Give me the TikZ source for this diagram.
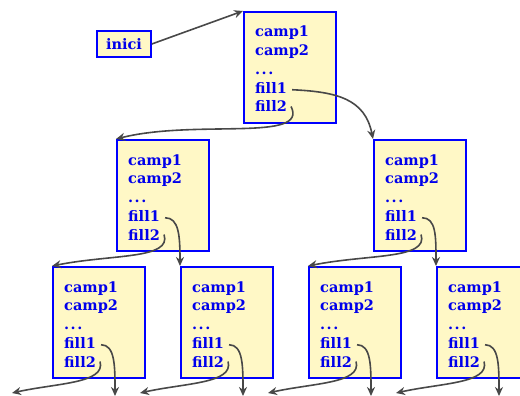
\documentclass[tikz,border=0pt]{standalone}
\usepackage{fontspec}
\setmainfont{DejaVu Serif}
\usetikzlibrary{arrows.meta,calc}
\definecolor{boxfill}{RGB}{255,248,198}
\definecolor{boxline}{RGB}{0,0,255}
\definecolor{txt}{RGB}{0,0,235}
\definecolor{arr}{RGB}{72,72,72}
\tikzset{
  recbox/.style={draw=boxline, fill=boxfill, line width=1.6pt, minimum width=92pt, minimum height=111pt, anchor=north west, inner sep=0pt},
  lbl/.style={anchor=base west, inner sep=0pt, text=txt, font=\fontsize{14.5}{17}\selectfont\bfseries},
  ptr/.style={draw=arr, line width=1.6pt, -{Stealth[length=9pt,width=8pt]}},
}
\newcommand\nodo[3]{%
  \node[recbox] (#1) at (#2,#3) {};
  \node[lbl] (#1-c1) at (#2+12,#3+26) {camp1};
  \node[lbl] (#1-c2) at (#2+12,#3+44.75) {camp2};
  \node[lbl] (#1-dt) at (#2+12,#3+63.5) {.\kern1.5pt.\kern1.5pt.};
  \node[lbl] (#1-f1) at (#2+12,#3+82.25) {fill1};
  \node[lbl] (#1-f2) at (#2+12,#3+101) {fill2};
}
\begin{document}
\begin{tikzpicture}[x=1pt,y=-1pt]
  \clip (0,0) rectangle (520,396);
  \node[draw=boxline, fill=boxfill, line width=1.6pt, minimum width=54pt, minimum height=26pt, inner sep=0pt, text=txt, font=\fontsize{14.5}{17}\selectfont\bfseries] (inici) at (124,44) {inici};
  \nodo{B0}{243}{11}
  \nodo{L}{116}{139}
  \nodo{R}{373}{139}
  \nodo{LL}{52}{266}
  \nodo{LR}{180}{266}
  \nodo{RL}{308}{266}
  \nodo{RR}{436}{266}
  \foreach \n/\x in {LL/52,LR/180,RL/308,RR/436}{
    \coordinate (\n-d) at (\x+63,396);
    \coordinate (\n-l) at (\x-40,393);
  }
  \draw[ptr] (inici.east) -- (B0.north west);
  \draw[ptr] ([xshift=5pt,yshift=-2pt]B0-f1.east) .. controls +(45,2) and +(-8,-40) .. (R.north west);
  \draw[ptr] ([xshift=4pt]B0-f2.east) .. controls +(18,36) and +(80,-20) .. (L.north west);
  \draw[ptr] ([xshift=5pt,yshift=-2pt]L-f1.east) .. controls +(14,0) and +(0,-30) .. (LR.north west);
  \draw[ptr] ([xshift=4pt]L-f2.east) .. controls +(8,25) and +(60,-12) .. (LL.north west);
  \draw[ptr] ([xshift=5pt,yshift=-2pt]R-f1.east) .. controls +(14,0) and +(0,-30) .. (RR.north west);
  \draw[ptr] ([xshift=4pt]R-f2.east) .. controls +(8,25) and +(60,-12) .. (RL.north west);
  \foreach \n in {LL,LR,RL,RR}{
    \draw[ptr] ([xshift=5pt,yshift=-2pt]\n-f1.east) .. controls +(14,0) and +(0,-30) .. (\n-d);
    \draw[ptr] ([xshift=4pt]\n-f2.east) .. controls +(6,22) and +(45,-10) .. (\n-l);
  }
\end{tikzpicture}
\end{document}
